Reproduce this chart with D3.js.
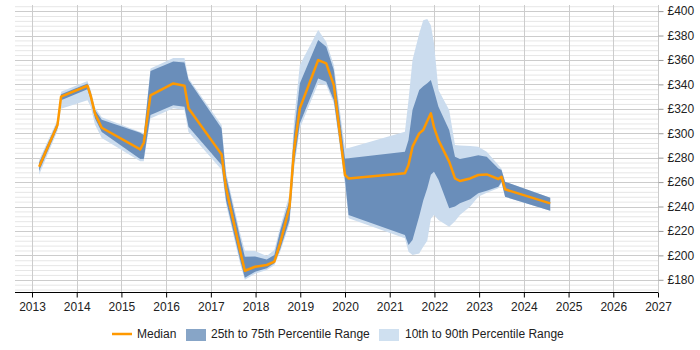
<!DOCTYPE html>
<html><head><meta charset="utf-8">
<script src="https://cdn.jsdelivr.net/npm/d3@7"></script>
<style>body{margin:0;background:#fff;}svg{display:block;font-family:"Liberation Sans",Arial,sans-serif;}</style>
</head><body><svg id="c" width="700" height="350"></svg>
<script>
const dates = [2013.16,2013.57,2013.65,2014.24,2014.31,2014.41,2014.56,2015.42,2015.50,2015.65,2016.16,2016.41,2016.50,2017.24,2017.34,2017.65,2017.76,2017.99,2018.25,2018.42,2018.55,2018.76,2018.86,2018.99,2019.40,2019.58,2019.75,2020.00,2020.08,2021.34,2021.42,2021.51,2021.66,2021.75,2021.84,2021.92,2021.99,2022.09,2022.33,2022.46,2022.57,2022.80,2022.98,2023.17,2023.43,2023.50,2023.58,2024.59];
const median = [272.6,306.7,329.9,338.9,331,316,304.5,286.8,292.2,331,340.8,338.9,320.4,282.7,254.9,204.4,187.4,190.7,192.1,194.8,209.9,239.8,286.2,320.4,359.9,357.2,339.4,265.8,263,267.2,274,289,299.9,302.6,310,316.3,305,294.4,276.7,263,260.9,263,265.8,266.3,262.5,264.4,254.1,242.6];
const p25 = [269,304,327,336,328,312,301,279,279,315,323,321.7,305.3,274,245,197,181.7,186.6,189.4,193.5,205,229,275,308,344.9,342.2,327,262,233,216.7,208.5,212.6,232,245,255,266,268.5,262,238.5,240,242.6,246,250.8,253,256.2,260.3,248,236.5];
const p75 = [276,309,332,340.8,334,319,311,300.4,298.5,351,358.8,358,343.5,304,265,215,198.9,199,196.7,200.3,220,245.3,300,340.8,376.3,370.8,351.7,279.4,279.5,284.8,294.4,319,335.3,338.5,341,343.5,335,321.7,302.6,280.8,279,280.5,282,280.8,271.2,269.9,260.3,247.2];
const p10 = [266,302,320,327,322,307,296,277,277,312,320.4,319,301,270,242,194,180,185,188,192,203,226,270,304,340.8,339.4,324.5,258,230.3,214,203,200.3,201.5,207,212,230,233,229,223.5,228,233,240,248,251.3,255,259,248,236.5];
const p90 = [278,311,334,342.7,336,321,313,301,300,353,361.6,361.6,345,306.7,268,219,203.8,203.6,199.5,204.4,223,250,310,355.8,384.5,374.9,355.8,287.6,288,301.2,327,360,381.7,392.6,393.5,388.5,373.8,335.3,319,290.3,290,289.5,289,284.8,274,271,260.3,247.2];
const xTicks = [2013,2014,2015,2016,2017,2018,2019,2020,2021,2022,2023,2024,2025,2026,2027];
const yTicks = [180,200,220,240,260,280,300,320,340,360,380,400];
const legendItems = ["Median","25th to 75th Percentile Range","10th to 90th Percentile Range"];

const svg = d3.select("#c");
const x = d3.scaleLinear().domain([2012.62, 2027]).range([15, 658]);
const y = d3.scaleLinear().domain([170, 405]).range([292, 5]);

// minor horizontal grid
const minor = d3.range(172, 405, 4).filter(v => v % 20 !== 0);
svg.append("g").selectAll("line").data(minor).join("line")
  .attr("x1", 15).attr("x2", 658).attr("y1", d => y(d)+0.5).attr("y2", d => y(d)+0.5)
  .attr("stroke", "#e6e6e6").attr("stroke-width", 1);
svg.append("g").selectAll("line").data(yTicks).join("line")
  .attr("x1", 15).attr("x2", 658).attr("y1", d => Math.round(y(d))+0.5).attr("y2", d => Math.round(y(d))+0.5)
  .attr("stroke", "#cccccc").attr("stroke-width", 1);
svg.append("g").selectAll("line").data(xTicks).join("line")
  .attr("x1", d => Math.round(x(d))+0.5).attr("x2", d => Math.round(x(d))+0.5).attr("y1", 5).attr("y2", 292)
  .attr("stroke", "#cccccc").attr("stroke-width", 1);

const idx = d3.range(dates.length);
const area = (lo, hi) => d3.area().x(i => x(dates[i])).y0(i => y(lo[i])).y1(i => y(hi[i]));
svg.append("path").attr("d", area(p10, p90)(idx)).attr("fill", "#cbdcee");
svg.append("path").attr("d", area(p25, p75)(idx)).attr("fill", "#6a8eba");
svg.append("path").attr("d", d3.line().x(i => x(dates[i])).y(i => y(median[i]))(idx))
  .attr("fill", "none").attr("stroke", "#ff9900").attr("stroke-width", 2.5).attr("stroke-linejoin", "round");

// x axis
const xa = svg.append("g").attr("transform", "translate(0,292.5)")
  .call(d3.axisBottom(x).tickValues(xTicks).tickFormat(d3.format("d")).tickSize(5).tickSizeOuter(0));
xa.select(".domain").attr("stroke", "#000").attr("d", "M15,0H658");
xa.selectAll(".tick line").attr("stroke", "#000");
xa.selectAll(".tick text").attr("font-size", 12).attr("fill", "#222").attr("dy", "0.9em").attr("font-family", "Liberation Sans, Arial, sans-serif");

// y axis right
const ya = svg.append("g").attr("transform", "translate(658.5,0)")
  .call(d3.axisRight(y).tickValues(yTicks).tickFormat(d => "£" + d).tickSize(5).tickPadding(4).tickSizeOuter(0));
ya.select(".domain").attr("stroke", "#cccccc").attr("d", "M0,5V292");
ya.selectAll(".tick line").attr("stroke", "#999");
ya.selectAll(".tick text").attr("font-size", 12).attr("fill", "#222").attr("font-family", "Liberation Sans, Arial, sans-serif");

// legend
const lg = svg.append("g").attr("font-size", 12).attr("fill", "#222");
lg.append("line").attr("x1", 112).attr("x2", 132).attr("y1", 334).attr("y2", 334).attr("stroke", "#ff9900").attr("stroke-width", 2.5);
lg.append("text").attr("x", 137).attr("y", 334).attr("dy", "0.35em").text(legendItems[0]);
lg.append("rect").attr("x", 186).attr("y", 329).attr("width", 20).attr("height", 12).attr("fill", "#87a5c7");
lg.append("text").attr("x", 211).attr("y", 334).attr("dy", "0.35em").text(legendItems[1]);
lg.append("rect").attr("x", 379).attr("y", 329).attr("width", 20).attr("height", 12).attr("fill", "#cfe0f0");
lg.append("text").attr("x", 405).attr("y", 334).attr("dy", "0.35em").text(legendItems[2]);
</script></body></html>
